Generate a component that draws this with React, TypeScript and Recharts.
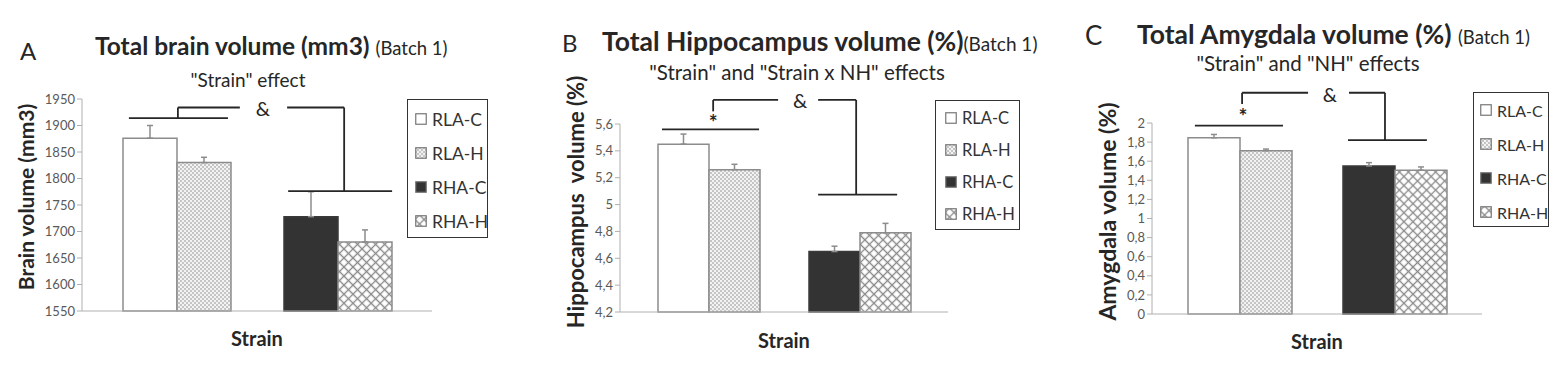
import React from "react";
import {
  BarChart,
  Bar,
  XAxis,
  YAxis,
  Cell,
  ErrorBar,
  ReferenceLine,
  ReferenceDot,
} from "recharts";

const strains = ["RLA", "RHA"];
const groups = ["RLA-C", "RLA-H", "RHA-C", "RHA-H"];

// Batch 1, mean + SEM, same order as groups
const brainMean = [1876, 1830, 1728, 1680];
const brainSem = [24, 10, 47, 23];
const hippoMean = [5.45, 5.26, 4.65, 4.79];
const hippoSem = [0.075, 0.04, 0.04, 0.07];
const amygMean = [1.845, 1.71, 1.55, 1.505];
const amygSem = [0.035, 0.017, 0.035, 0.035];

const brainTicks = [1550, 1600, 1650, 1700, 1750, 1800, 1850, 1900, 1950];
const hippoTicks = [4.2, 4.4, 4.6, 4.8, 5, 5.2, 5.4, 5.6];
const amygTicks = [0, 0.2, 0.4, 0.6, 0.8, 1, 1.2, 1.4, 1.6, 1.8, 2];

// significance brackets: [x1, y1, x2, y2], x in % of plot width, y in axis units
const brainLines = [
  [13.4, 1914, 41.7, 1914],
  [27.4, 1914, 27.4, 1934],
  [27.4, 1934, 45.1, 1934],
  [58.6, 1934, 74.9, 1934],
  [74.9, 1934, 74.9, 1776],
  [58.9, 1776, 88.6, 1776],
];
const brainMarks: [number, number, string][] = [[51.7, 1931, "&"]];

const hippoLines = [
  [12.8, 5.56, 42.4, 5.56],
  [28.4, 5.694, 28.4, 5.779],
  [28.4, 5.779, 48.2, 5.779],
  [60.4, 5.779, 72.0, 5.779],
  [72.0, 5.779, 72.0, 5.074],
  [60.4, 5.074, 84.5, 5.074],
];
const hippoMarks: [number, number, string][] = [
  [54.9, 5.77, "&"],
  [28.4, 5.61, "*"],
];

const amygLines = [
  [13.0, 1.972, 39.7, 1.972],
  [27.3, 2.2, 27.3, 2.317],
  [27.3, 2.317, 47.3, 2.317],
  [59.7, 2.317, 70.6, 2.317],
  [70.6, 2.317, 70.6, 1.82],
  [59.4, 1.82, 83.3, 1.82],
];
const amygMarks: [number, number, string][] = [
  [53.9, 2.295, "&"],
  [27.6, 2.065, "*"],
];

const fills = ["#ffffff", "url(#dots)", "#333333", "url(#xhatch)"];
const strokes = ["#8c8c8c", "#8c8c8c", "#3a3a3a", "#8c8c8c"];
const ink = "#262626";

const toRows = (mean: number[], sem: number[]) =>
  strains.map((s, i) => ({
    strain: s,
    C: mean[2 * i],
    H: mean[2 * i + 1],
    errC: [0, sem[2 * i]],
    errH: [0, sem[2 * i + 1]],
  }));

const fmt = (v: number) => String(Number(v.toFixed(1))).replace(".", ",");

function Patterns() {
  return (
    <svg width={0} height={0} style={{ position: "absolute" }}>
      <defs>
        <pattern id="dots" width={4} height={4} patternUnits="userSpaceOnUse">
          <rect width={4} height={4} fill="#f3f3f3" />
          <circle cx={1} cy={1} r={0.8} fill="#8a8a8a" />
          <circle cx={3} cy={3} r={0.8} fill="#8a8a8a" />
        </pattern>
        <pattern
          id="xhatch"
          width={6.4}
          height={6.4}
          patternUnits="userSpaceOnUse"
          patternTransform="rotate(45)"
        >
          <rect width={6.4} height={6.4} fill="#ffffff" />
          <path d="M0 3.2H6.4M3.2 0V6.4" stroke="#8a8a8a" strokeWidth={1.3} />
        </pattern>
      </defs>
    </svg>
  );
}

// rotated y-axis title, nudged along the axis
function AxisTitle({ viewBox, value, offset, shift, size }: any) {
  if (!viewBox) return null;
  const x = viewBox.x + offset;
  const y = viewBox.y + viewBox.height / 2 + shift;
  return (
    <text
      x={x}
      y={y}
      transform={`rotate(-90, ${x}, ${y})`}
      textAnchor="middle"
      dominantBaseline="central"
      fontSize={size}
      fontWeight={700}
      fill={ink}
    >
      {value}
    </text>
  );
}

function Txt({ x, y, size, bold, center, children }: any) {
  return (
    <div
      style={{
        position: "absolute",
        left: x,
        top: y,
        transform: `translate(${center ? "-50%" : "0"}, -50%)`,
        fontSize: size,
        fontWeight: bold ? 700 : 400,
        lineHeight: 1.2,
        whiteSpace: "nowrap",
        color: ink,
      }}
    >
      {children}
    </div>
  );
}

function GroupLegend({ left, top, width, height, padTop, row, swatchX, textX, size }: any) {
  return (
    <div
      style={{
        position: "absolute",
        left,
        top,
        width,
        height,
        boxSizing: "border-box",
        border: "1.5px solid #333",
        paddingTop: padTop,
      }}
    >
      {groups.map((g, i) => (
        <div key={g} style={{ height: row, position: "relative" }}>
          <svg
            width={12}
            height={12}
            style={{ position: "absolute", left: swatchX, top: row / 2 - 6 }}
          >
            <rect x={0.75} y={0.75} width={10.5} height={10.5} fill={fills[i]} stroke="#777" strokeWidth={1.2} />
          </svg>
          <span
            style={{
              position: "absolute",
              left: textX,
              top: "50%",
              transform: "translateY(-50%)",
              fontSize: size,
              color: "#333",
              whiteSpace: "nowrap",
            }}
          >
            {g}
          </span>
        </div>
      ))}
    </div>
  );
}

function Panel({ cfg }: any) {
  const rows = toRows(cfg.mean, cfg.sem);
  return (
    <div style={{ position: "absolute", left: cfg.left, top: 0 }}>
      <BarChart
        width={cfg.width}
        height={367}
        data={rows}
        margin={cfg.margin}
        barCategoryGap={cfg.gap}
        barGap={0}
      >
        <XAxis
          dataKey="strain"
          tick={false}
          tickLine={false}
          height={40}
          padding={{ left: cfg.pad, right: cfg.pad }}
          axisLine={{ stroke: "#b0b0b0" }}
          label={{
            value: "Strain",
            position: "insideBottom",
            offset: cfg.xLabelOffset,
            fontSize: 20,
            fontWeight: 700,
            fill: ink,
          }}
        />
        <XAxis
          xAxisId="ann"
          dataKey="annX"
          type="number"
          domain={[0, 100]}
          allowDataOverflow
          hide
        />
        <YAxis
          width={cfg.yWidth}
          domain={[cfg.ticks[0], cfg.ticks[cfg.ticks.length - 1]]}
          ticks={cfg.ticks}
          interval={0}
          tickFormatter={fmt}
          tickSize={5}
          tick={{ fill: "#595959", fontSize: 13 }}
          tickLine={{ stroke: "#b0b0b0" }}
          axisLine={{ stroke: "#b0b0b0" }}
          label={
            <AxisTitle
              value={cfg.yLabel}
              offset={cfg.yLabelOffset}
              shift={cfg.yLabelShift}
              size={cfg.yLabelSize}
            />
          }
        />
        <Bar dataKey="C" isAnimationActive={false} strokeWidth={1.5}>
          {rows.map((r, i) => (
            <Cell key={r.strain} fill={fills[2 * i]} stroke={strokes[2 * i]} />
          ))}
          <ErrorBar dataKey="errC" width={3} stroke="#8c8c8c" strokeWidth={1.5} />
        </Bar>
        <Bar dataKey="H" isAnimationActive={false} strokeWidth={1.5}>
          {rows.map((r, i) => (
            <Cell key={r.strain} fill={fills[2 * i + 1]} stroke={strokes[2 * i + 1]} />
          ))}
          <ErrorBar dataKey="errH" width={3} stroke="#8c8c8c" strokeWidth={1.5} />
        </Bar>
        {cfg.lines.map((l: number[], i: number) => (
          <ReferenceLine
            key={i}
            xAxisId="ann"
            segment={[
              { x: l[0], y: l[1] },
              { x: l[2], y: l[3] },
            ]}
            stroke={ink}
            strokeWidth={1.8}
            ifOverflow="visible"
          />
        ))}
        {cfg.marks.map((m: [number, number, string], i: number) => (
          <ReferenceDot
            key={i}
            xAxisId="ann"
            x={m[0]}
            y={m[1]}
            r={0}
            fill="none"
            stroke="none"
            ifOverflow="visible"
            label={{
              value: m[2],
              position: "center",
              fill: ink,
              fontSize: m[2] === "*" ? 21 : 20,
              fontWeight: m[2] === "*" ? 700 : 400,
            }}
          />
        ))}
      </BarChart>
    </div>
  );
}

const panels = [
  {
    left: 0,
    width: 520,
    margin: { top: 99, right: 88, bottom: 16, left: 20 },
    yWidth: 62,
    yLabelOffset: 7,
    yLabelShift: -8,
    yLabelSize: 21,
    pad: 14,
    gap: 27,
    xLabelOffset: 5,
    mean: brainMean,
    sem: brainSem,
    ticks: brainTicks,
    yLabel: "Brain volume (mm3)",
    lines: brainLines,
    marks: brainMarks,
  },
  {
    left: 530,
    width: 520,
    margin: { top: 124, right: 102, bottom: 15, left: 40 },
    yWidth: 50,
    yLabelOffset: 0,
    yLabelShift: -16,
    yLabelSize: 22,
    pad: 13,
    gap: 25,
    xLabelOffset: 4,
    mean: hippoMean,
    sem: hippoSem,
    ticks: hippoTicks,
    yLabel: "Hippocampus\u00A0 volume (%)",
    lines: hippoLines,
    marks: hippoMarks,
  },
  {
    left: 1060,
    width: 507,
    margin: { top: 123, right: 85, bottom: 13, left: 42 },
    yWidth: 50,
    yLabelOffset: -4,
    yLabelShift: -7,
    yLabelSize: 23,
    pad: 10,
    gap: 26,
    xLabelOffset: 5,
    mean: amygMean,
    sem: amygSem,
    ticks: amygTicks,
    yLabel: "Amygdala volume (%)",
    lines: amygLines,
    marks: amygMarks,
  },
];

export default function App() {
  return (
    <div
      style={{
        position: "absolute",
        left: 0,
        top: 0,
        width: 1567,
        height: 367,
        background: "#ffffff",
        fontFamily: "Lato, 'Open Sans', sans-serif",
        overflow: "hidden",
      }}
    >
      <Patterns />
      {panels.map((p, i) => (
        <Panel key={i} cfg={p} />
      ))}

      {/* panel A */}
      <Txt x={20} y={51} size={24}>A</Txt>
      <Txt x={95} y={46} size={24.5} bold>
        Total brain volume (mm3) <span style={{ fontSize: 18.5, fontWeight: 400 }}>(Batch 1)</span>
      </Txt>
      <Txt x={248} y={80} size={19} center>"Strain" effect</Txt>
      <GroupLegend left={407} top={99} width={81} height={139} padTop={2} row={34} swatchX={7} textX={24} size={17.5} />

      {/* panel B */}
      <Txt x={562} y={43} size={24}>B</Txt>
      <Txt x={602} y={42} size={26.5} bold>
        Total Hippocampus volume (%)<span style={{ fontSize: 19, fontWeight: 400 }}>(Batch 1)</span>
      </Txt>
      <Txt x={797} y={72} size={20.5} center>"Strain" and "Strain x NH" effects</Txt>
      <GroupLegend left={935} top={100} width={85} height={130} padTop={1} row={32} swatchX={9} textX={26} size={16.5} />

      {/* panel C */}
      <Txt x={1085} y={36} size={26}>C</Txt>
      <Txt x={1137} y={35} size={26.5} bold>
        Total Amygdala volume (%) <span style={{ fontSize: 18.5, fontWeight: 400 }}>(Batch 1)</span>
      </Txt>
      <Txt x={1308} y={63} size={20.5} center>"Strain" and "NH" effects</Txt>
      <GroupLegend left={1473} top={92} width={76} height={135} padTop={0} row={34} swatchX={6} textX={23} size={16} />
    </div>
  );
}
